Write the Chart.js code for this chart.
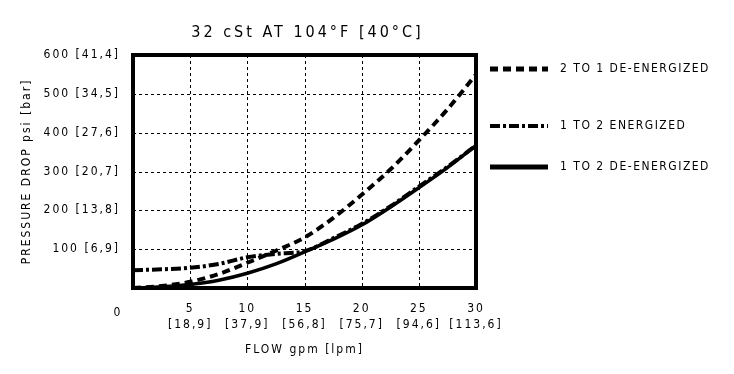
<!DOCTYPE html>
<html>
<head>
<meta charset="utf-8">
<script src="https://cdn.jsdelivr.net/npm/chart.js@4"></script>
<style>
  html, body { margin: 0; padding: 0; background: #fff; }
  #wrap { width: 734px; height: 374px; position: relative; }
</style>
</head>
<body>
<div id="wrap"><canvas id="chart"></canvas></div>
<script>
// flow values (gpm) and pressure drop (psi)
const flowGpm = [0, 2.5, 5, 7.5, 10, 12.5, 15, 17.5, 20, 22.5, 25, 27.5, 30];
const twoToOneDeEnergized = [0, 5, 16, 36, 65, 96, 130, 180, 240, 305, 380, 460, 550];
const oneToTwoEnergized = [46, 48, 52, 62, 79, 88, 95, 128, 165, 210, 261, 312, 367];
const oneToTwoDeEnergized = [0, 3, 9, 20, 38, 62, 93, 125, 162, 208, 258, 310, 367];

const xTicks = [5, 10, 15, 20, 25, 30];
const lpmLabels = ['[18,9]', '[37,9]', '[56,8]', '[75,7]', '[94,6]', '[113,6]'];
const yTicks = [100, 200, 300, 400, 500, 600];
const barLabels = ['[6,9]', '[13,8]', '[20,7]', '[27,6]', '[34,5]', '[41,4]'];

const TITLE = '32 cSt AT 104°F [40°C]';
const FONT = "'DejaVu Sans Condensed', 'Liberation Sans Narrow', 'DejaVu Sans', sans-serif";
const SPACING = '2px';

function pts(ys) {
    return flowGpm.map((x, i) => ({ x: x, y: ys[i] }));
}

// letter spacing for the CAD-like look
const spacingPlugin = {
    id: 'spacing',
    beforeLayout(chart) { chart.ctx.letterSpacing = SPACING; },
    beforeDraw(chart) { chart.ctx.letterSpacing = SPACING; }
};

// dotted grid, thick frame, title and the lone "0" label
const framePlugin = {
    id: 'frame',
    beforeDatasetsDraw(chart) {
        const ctx = chart.ctx;
        const a = chart.chartArea;
        const xs = chart.scales.x;
        const ys = chart.scales.y;
        ctx.save();
        ctx.strokeStyle = '#000';
        ctx.lineWidth = 1;
        ctx.setLineDash([3, 3]);
        ctx.beginPath();
        xTicks.forEach(v => {
            const px = Math.round(xs.getPixelForValue(v)) + 0.5;
            ctx.moveTo(px, a.top);
            ctx.lineTo(px, a.bottom);
        });
        yTicks.forEach(v => {
            const py = Math.round(ys.getPixelForValue(v)) + 0.5;
            ctx.moveTo(a.left, py);
            ctx.lineTo(a.right, py);
        });
        ctx.stroke();
        ctx.restore();
    },
    afterDraw(chart) {
        const ctx = chart.ctx;
        const a = chart.chartArea;
        ctx.save();
        ctx.strokeStyle = '#000';
        ctx.lineWidth = 4;
        ctx.strokeRect(a.left, a.top, a.right - a.left, a.bottom - a.top);
        ctx.fillStyle = '#000';
        ctx.textAlign = 'center';
        ctx.textBaseline = 'middle';
        ctx.letterSpacing = '3px';
        ctx.font = '16px ' + FONT;
        ctx.fillText(TITLE, (a.left + a.right) / 2 + 3, 33);
        ctx.letterSpacing = SPACING;
        ctx.font = '12px ' + FONT;
        ctx.fillText('0', a.left - 15, a.bottom + 25);
        ctx.restore();
    }
};

// legend on the right with line samples
const sideLegend = {
    id: 'sideLegend',
    afterDraw(chart) {
        const ctx = chart.ctx;
        const a = chart.chartArea;
        const rows = [69, 126, 167];
        ctx.save();
        chart.data.datasets.forEach((ds, i) => {
            const y = rows[i];
            ctx.strokeStyle = '#000';
            ctx.lineWidth = ds.legendWidth;
            ctx.setLineDash(ds.borderDash || []);
            ctx.beginPath();
            ctx.moveTo(a.right + 14, y);
            ctx.lineTo(a.right + 72, y);
            ctx.stroke();
            ctx.setLineDash([]);
            ctx.letterSpacing = '1.5px';
            ctx.fillStyle = '#000';
            ctx.font = '12px ' + FONT;
            ctx.textAlign = 'left';
            ctx.textBaseline = 'middle';
            ctx.fillText(ds.label, a.right + 84, y);
        });
        ctx.restore();
    }
};

const ctx = document.getElementById('chart').getContext('2d');

new Chart(ctx, {
    type: 'line',
    data: {
        datasets: [{
            label: '2 TO 1 DE-ENERGIZED',
            data: pts(twoToOneDeEnergized),
            borderColor: '#000',
            borderWidth: 4,
            borderDash: [8, 5],
            legendWidth: 5
        }, {
            label: '1 TO 2 ENERGIZED',
            data: pts(oneToTwoEnergized),
            borderColor: '#000',
            borderWidth: 4,
            borderDash: [10, 3, 3, 3],
            legendWidth: 4
        }, {
            label: '1 TO 2 DE-ENERGIZED',
            data: pts(oneToTwoDeEnergized),
            borderColor: '#000',
            borderWidth: 3.5,
            legendWidth: 5
        }]
    },
    options: {
        responsive: true,
        maintainAspectRatio: false,
        animation: false,
        elements: {
            point: { radius: 0 },
            line: { tension: 0.4, cubicInterpolationMode: 'monotone' }
        },
        layout: { padding: { left: 0, right: 258, top: 55, bottom: 0 } },
        plugins: {
            legend: { display: false },
            tooltip: { enabled: false },
            title: { display: false }
        },
        scales: {
            x: {
                type: 'linear',
                min: 0,
                max: 30,
                afterFit(scale) { scale.height = 86; },
                afterBuildTicks(scale) {
                    scale.ticks = [0].concat(xTicks).map(v => ({ value: v }));
                },
                grid: { display: false },
                border: { display: false },
                ticks: {
                    color: '#000',
                    padding: 5,
                    maxRotation: 0,
                    autoSkip: false,
                    font: { family: FONT, size: 12, lineHeight: 1.35 },
                    callback(v) {
                        const i = xTicks.indexOf(v);
                        return i < 0 ? '' : [String(v), lpmLabels[i]];
                    }
                },
                title: {
                    display: true,
                    text: 'FLOW gpm [lpm]',
                    color: '#000',
                    font: { family: FONT, size: 12 },
                    padding: { top: 0, bottom: 17 }
                }
            },
            y: {
                min: 0,
                max: 600,
                afterFit(scale) { scale.width = 133; },
                afterBuildTicks(scale) {
                    scale.ticks = [0].concat(yTicks).map(v => ({ value: v }));
                },
                grid: { display: false },
                border: { display: false },
                ticks: {
                    color: '#000',
                    padding: 5,
                    autoSkip: false,
                    font: { family: FONT, size: 12 },
                    callback(v) {
                        const i = yTicks.indexOf(v);
                        return i < 0 ? '' : v + ' ' + barLabels[i];
                    }
                },
                title: {
                    display: true,
                    text: 'PRESSURE DROP psi [bar]',
                    color: '#000',
                    font: { family: FONT, size: 12 },
                    padding: { top: 20, bottom: 0 }
                }
            }
        }
    },
    plugins: [spacingPlugin, framePlugin, sideLegend]
});
</script>
</body>
</html>
